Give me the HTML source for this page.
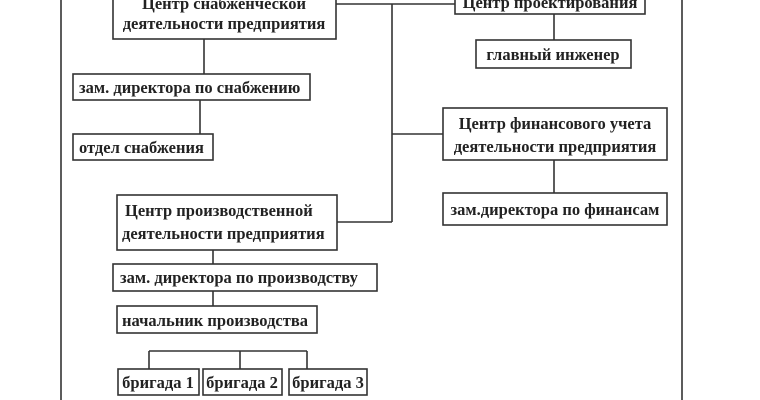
<!DOCTYPE html>
<html><head><meta charset="utf-8"><style>
html,body{margin:0;padding:0;background:#fff}
svg{display:block}
text{font-family:"Liberation Serif",serif;font-size:16.5px;font-weight:bold;fill:#222}
</style></head><body>
<svg width="760" height="400" viewBox="0 0 760 400">
<g stroke="#333" stroke-width="1.6" fill="none">
<line x1="61" y1="0" x2="61" y2="400"/>
<line x1="682" y1="0" x2="682" y2="400"/>
<rect x="113" y="-10" width="223" height="49" fill="#fff"/>
<line x1="336" y1="4" x2="455" y2="4"/>
<line x1="392" y1="4" x2="392" y2="222"/>
<line x1="337" y1="222" x2="392" y2="222"/>
<line x1="392" y1="134" x2="443" y2="134"/>
<rect x="455" y="-10" width="190" height="24"/>
<line x1="554" y1="14" x2="554" y2="40"/>
<rect x="476" y="40" width="155" height="28"/>
<rect x="443" y="108" width="224" height="52"/>
<line x1="554" y1="160" x2="554" y2="193"/>
<rect x="443" y="193" width="224" height="32"/>
<line x1="204" y1="39" x2="204" y2="74"/>
<rect x="73" y="74" width="237" height="26"/>
<line x1="200" y1="100" x2="200" y2="134"/>
<rect x="73" y="134" width="140" height="26"/>
<rect x="117" y="195" width="220" height="55"/>
<line x1="213" y1="250" x2="213" y2="264"/>
<rect x="113" y="264" width="264" height="27"/>
<line x1="213" y1="291" x2="213" y2="306"/>
<rect x="117" y="306" width="200" height="27"/>
<line x1="149" y1="351" x2="307" y2="351"/>
<line x1="149" y1="351" x2="149" y2="369"/>
<line x1="240" y1="351" x2="240" y2="369"/>
<line x1="307" y1="351" x2="307" y2="369"/>
<rect x="118" y="369" width="81" height="26"/>
<rect x="203" y="369" width="79" height="26"/>
<rect x="289" y="369" width="78" height="26"/>
</g>
<text x="224" y="9" text-anchor="middle">Центр снабженческой</text>
<text x="224" y="29" text-anchor="middle">деятельности предприятия</text>
<text x="550" y="8" text-anchor="middle">Центр проектирования</text>
<text x="553" y="60" text-anchor="middle">главный инженер</text>
<text x="555" y="129" text-anchor="middle">Центр финансового учета</text>
<text x="555" y="152" text-anchor="middle">деятельности предприятия</text>
<text x="555" y="215" text-anchor="middle">зам.директора по финансам</text>
<text x="79" y="93">зам. директора по снабжению</text>
<text x="79" y="153">отдел снабжения</text>
<text x="125" y="216">Центр производственной</text>
<text x="122" y="239">деятельности предприятия</text>
<text x="120" y="283">зам. директора по производству</text>
<text x="122" y="326">начальник производства</text>
<text x="158" y="388" text-anchor="middle">бригада 1</text>
<text x="242" y="388" text-anchor="middle">бригада 2</text>
<text x="328" y="388" text-anchor="middle">бригада 3</text>
</svg>
</body></html>
